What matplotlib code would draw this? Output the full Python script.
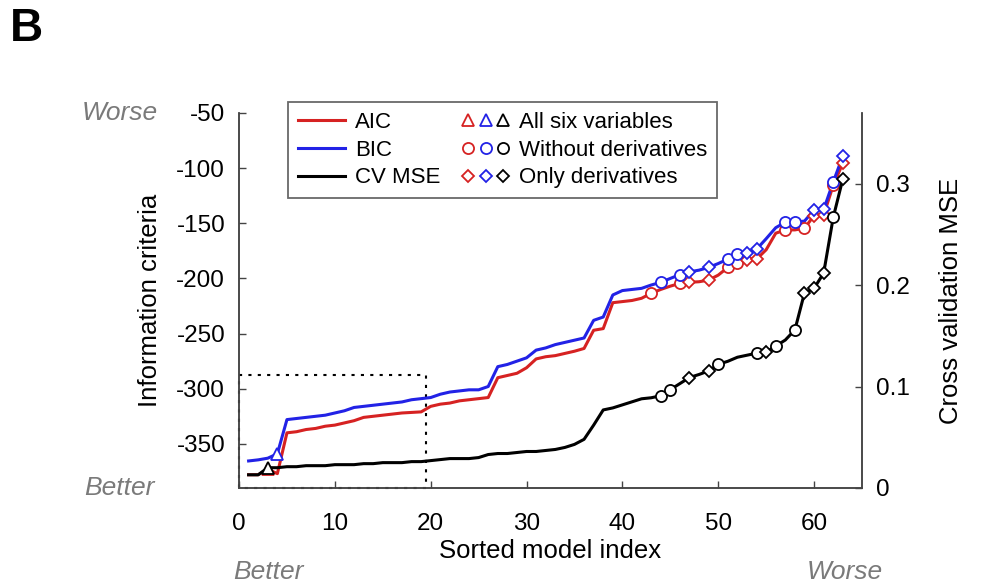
import numpy as np
import matplotlib
matplotlib.use('Agg')
import matplotlib.pyplot as plt
from matplotlib.lines import Line2D
from matplotlib.legend_handler import HandlerTuple

plt.rcParams['font.family'] = ['Liberation Sans', 'DejaVu Sans']
plt.rcParams['axes.unicode_minus'] = False

# sorted model index 1..63
idx = np.arange(1, 64)

aic = [-378, -378, -373, -377, -340, -339, -337, -336, -334, -333,
       -331, -329, -326, -325, -324, -323, -322, -321.5, -321, -316,
       -314, -313, -311, -310, -309, -308, -290, -288, -286, -281,
       -273, -271, -270, -268, -266, -263.5, -247, -245.5, -222, -221,
       -220, -218, -213.5, -210, -207, -204.5, -203.5, -203, -201.5, -197,
       -190, -186, -183, -182.5, -174, -159, -156, -156, -154.5, -143,
       -142.5, -115.5, -95.5]
bic = [-365.5, -364.5, -363, -359, -328, -327, -326, -325, -324, -322,
       -320, -317, -316, -315, -314, -313, -312, -310, -309, -308,
       -305, -303, -302, -301, -301, -298, -280, -278, -275, -272,
       -265, -263, -260, -258, -256, -254, -238, -235, -215, -211,
       -210, -209, -206, -203.5, -200, -196.5, -194, -192.5, -190, -186.5,
       -182.5, -177.5, -177, -173.5, -164, -154, -149, -149, -148, -138,
       -137.5, -112.5, -89]
cv_mse = [0.013, 0.013, 0.020, 0.020, 0.021, 0.021, 0.022, 0.022, 0.022, 0.023,
          0.023, 0.023, 0.024, 0.024, 0.025, 0.025, 0.025, 0.026, 0.026, 0.027,
          0.028, 0.029, 0.029, 0.029, 0.030, 0.033, 0.034, 0.034, 0.035, 0.036,
          0.036, 0.037, 0.038, 0.040, 0.043, 0.048, 0.062, 0.077, 0.079, 0.082,
          0.085, 0.088, 0.089, 0.091, 0.097, 0.103, 0.109, 0.112, 0.1155, 0.122,
          0.125, 0.129, 0.131, 0.133, 0.134, 0.140, 0.146, 0.156, 0.1925, 0.197,
          0.212, 0.267, 0.305]

# positions (sorted index) of each model group in each curve
aic_all = [3]
aic_noderiv = [43, 46, 51, 52, 57, 59, 62]
aic_deriv = [47, 49, 53, 54, 60, 61, 63]
bic_all = [4]
bic_noderiv = [44, 46, 51, 52, 57, 58, 62]
bic_deriv = [47, 49, 53, 54, 60, 61, 63]
cv_all = [3]
cv_noderiv = [44, 45, 50, 54, 56, 58, 62]
cv_deriv = [47, 49, 55, 59, 60, 61, 63]

RED = '#d62222'
BLUE = '#2222e6'
GRAY = '#7a7a7a'
SIZES = {'^': 8, 'o': 8, 'D': 6.5}

fig = plt.figure(figsize=(9.82, 5.87), dpi=100)
ax = fig.add_axes([0.2434, 0.1687, 0.6344, 0.6388])
ax2 = ax.twinx()

def marks(a, vals, pos, mk, col):
    p = np.array(pos)
    v = np.array(vals)[p - 1]
    a.plot(p, v, linestyle='none', marker=mk, ms=SIZES[mk], mfc='white', mec=col, mew=1.3, zorder=5)

ax.plot(idx, aic, color=RED, lw=2.2, zorder=3)
marks(ax, aic, aic_all, '^', RED)
marks(ax, aic, aic_noderiv, 'o', RED)
marks(ax, aic, aic_deriv, 'D', RED)
ax.plot(idx, bic, color=BLUE, lw=2.2, zorder=4)
marks(ax, bic, bic_all, '^', BLUE)
marks(ax, bic, bic_noderiv, 'o', BLUE)
marks(ax, bic, bic_deriv, 'D', BLUE)

ax2.plot(idx, cv_mse, color='black', lw=2.2, zorder=3)
marks(ax2, cv_mse, cv_all, '^', 'black')
marks(ax2, cv_mse, cv_noderiv, 'o', 'black')
marks(ax2, cv_mse, cv_deriv, 'D', 'black')

# zoom region box
ax.plot([0, 19.5, 19.5, 0, 0], [-288, -288, -390, -390, -288], color='black',
        lw=1.5, linestyle=(0, (1.5, 3)), zorder=2, clip_on=False)

ax.set_xlim(0, 65)
ax.set_ylim(-390, -50)
ax2.set_ylim(0, 0.37)
ax.set_xticks([0, 10, 20, 30, 40, 50, 60])
ax.set_yticks([-50, -100, -150, -200, -250, -300, -350])
ax2.set_yticks([0, 0.1, 0.2, 0.3])
ax2.set_yticklabels(['0', '0.1', '0.2', '0.3'])

for a in (ax, ax2):
    a.spines['top'].set_visible(False)
    for s in a.spines.values():
        s.set_color('#444444')
        s.set_linewidth(1.1)
    a.tick_params(direction='in', length=5, width=1, color='#444444', labelsize=17.5, pad=10)
ax.tick_params(axis='x', pad=18)

ax.set_xlabel('Sorted model index', fontsize=18.5, labelpad=3)
ax.set_ylabel('Information criteria', fontsize=18.5, labelpad=10)
ax2.set_ylabel('Cross validation MSE', fontsize=18.5, labelpad=21)

# better / worse annotations
ax.text(-0.192, 1.0, 'Worse', transform=ax.transAxes, style='italic', color=GRAY,
        fontsize=19, ha='center', va='center')
ax.text(-0.192, 0.0, 'Better', transform=ax.transAxes, style='italic', color=GRAY,
        fontsize=19, ha='center', va='center')
ax.text(0.047, -0.225, 'Better', transform=ax.transAxes, style='italic', color=GRAY,
        fontsize=19, ha='center', va='center')
ax.text(0.972, -0.225, 'Worse', transform=ax.transAxes, style='italic', color=GRAY,
        fontsize=19, ha='center', va='center')

fig.text(0.01, 0.95, 'B', fontsize=33, fontweight='bold', va='center')

def mh(mk, col):
    return Line2D([], [], linestyle='none', marker=mk, ms=SIZES[mk],
                  mfc='white', mec=col, mew=1.3)

handles = [Line2D([], [], color=RED, lw=2.2),
           Line2D([], [], color=BLUE, lw=2.2),
           Line2D([], [], color='black', lw=2.2),
           (mh('^', RED), mh('^', BLUE), mh('^', 'black')),
           (mh('o', RED), mh('o', BLUE), mh('o', 'black')),
           (mh('D', RED), mh('D', BLUE), mh('D', 'black'))]
labels = ['AIC', 'BIC', 'CV MSE', 'All six variables', 'Without derivatives', 'Only derivatives']
leg = ax2.legend(handles, labels, ncol=2, loc='upper left', bbox_to_anchor=(0.0787, 1.029),
                 borderaxespad=0,
                 handler_map={tuple: HandlerTuple(ndivide=None, pad=0.25)},
                 fontsize=16, frameon=True, fancybox=False, borderpad=0.45,
                 labelspacing=0.3, handlelength=2.1, handletextpad=0.45, columnspacing=1.0)
leg.get_frame().set_edgecolor('#444444')
leg.get_frame().set_linewidth(1.3)
leg.set_zorder(10)

fig.savefig('out.png', dpi=100)
